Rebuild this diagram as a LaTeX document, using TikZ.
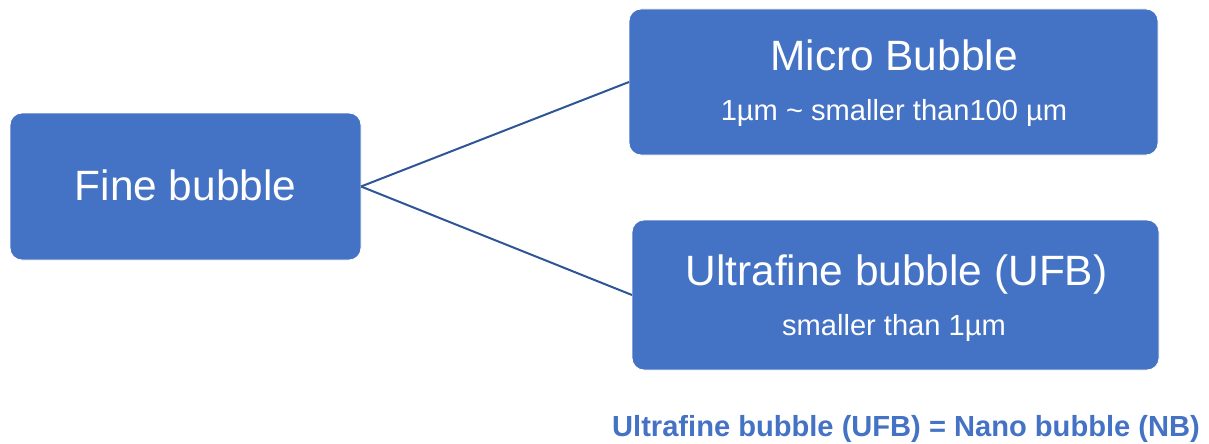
\documentclass[tikz,border=0pt]{standalone}
\usepackage{fontspec}
\setmainfont{Liberation Sans}
\definecolor{boxblue}{HTML}{4472C4}
\definecolor{lineblue}{HTML}{2F5597}
\begin{document}
\begin{tikzpicture}[x=1pt,y=-1pt,
  box/.style={draw=white, line width=0.8pt, fill=boxblue, rounded corners=12pt, inner sep=0pt, outer sep=0pt},
  title/.style={anchor=base, inner sep=0pt, text=white, font=\fontsize{42.4}{50}\selectfont},
  sub/.style={anchor=base, inner sep=0pt, text=white, font=\fontsize{29.1}{34}\selectfont},
  conn/.style={draw=lineblue, line width=2pt}]
\useasboundingbox (0,0) rectangle (1209,444);
\node[box, minimum width=351pt, minimum height=147pt] (fine) at (185.5,186.5) {};
\node[box, minimum width=529pt, minimum height=146pt] (micro) at (893.5,82) {};
\node[box, minimum width=527pt, minimum height=150pt] (ufb) at (895.5,295) {};
\node[title] (finet) at (185.5,200) {Fine bubble};
\node[title] (microt) at (894,70.7) {Micro Bubble};
\node[sub] (micros) at (894,120) {1µm \textasciitilde{} smaller than100 µm};
\node[title] (ufbt) at (896.5,285) {Ultrafine bubble (UFB)};
\node[sub] (ufbs) at (894,335) {smaller than 1µm};
\node[anchor=base east, inner sep=0pt, text=boxblue, font=\bfseries\fontsize{29.1}{34}\selectfont] (note) at (1200,436) {Ultrafine bubble (UFB) = Nano bubble (NB)};
\draw[conn] (fine.east) -- (micro.west);
\draw[conn] (fine.east) -- (ufb.west);
\end{tikzpicture}
\end{document}
